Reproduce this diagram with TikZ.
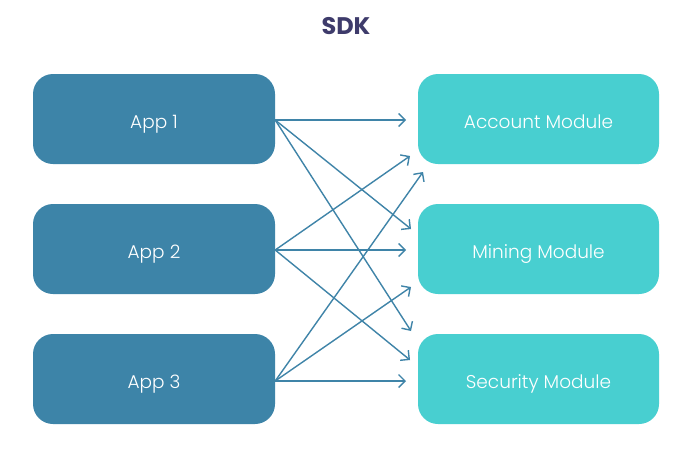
\documentclass[tikz,border=0pt]{standalone}
\usepackage{fontspec}
\setmainfont{Poppins}[UprightFont=* Light, BoldFont=* Bold]
\usetikzlibrary{arrows.meta}
\definecolor{appc}{HTML}{3D84A8}
\definecolor{modc}{HTML}{48CFD0}
\definecolor{linec}{HTML}{3F84A8}
\definecolor{titlec}{HTML}{3E3B6B}
\tikzset{
  boxtext/.style={text=white, font=\fontsize{18.5}{20}\selectfont, inner sep=0pt, text height=18pt, text depth=0pt, rounded corners=20pt, minimum height=90pt},
  appbox/.style={boxtext, fill=appc, minimum width=242pt},
  modbox/.style={boxtext, fill=modc, minimum width=241pt},
  link/.style={draw=linec, line width=1.4pt, -{Straight Barb[length=6.5pt,width=13pt,line width=1.4pt]}}
}
\begin{document}
\begin{tikzpicture}[x=1pt,y=-1pt]
\useasboundingbox[fill=white] (0,0) rectangle (699,474);
\node[font=\bfseries\fontsize{24}{26}\selectfont, text=titlec] (title) at (346,26) {SDK};
\node[appbox] (a1) at (154,119) {App 1};
\node[appbox] (a2) at (154,249) {App 2};
\node[appbox] (a3) at (154,379) {App 3};
\node[modbox] (m1) at (538.5,119) {Account Module};
\node[modbox] (m2) at (538.5,249) {Mining Module};
\node[modbox] (m3) at (538.5,379) {Security Module};
\coordinate (e11) at (406,120);
\coordinate (e12) at (411,229);
\coordinate (e13) at (411,331);
\coordinate (e21) at (410,156);
\coordinate (e22) at (406,250);
\coordinate (e23) at (410,360);
\coordinate (e31) at (423,172);
\coordinate (e32) at (411,287);
\coordinate (e33) at (406,381);
\draw[link] ([yshift=-1pt]a1.east) -- (e11);
\draw[link] ([yshift=-1pt]a1.east) -- (e12);
\draw[link] ([yshift=-1pt]a1.east) -- (e13);
\draw[link] ([yshift=-1pt]a2.east) -- (e21);
\draw[link] ([yshift=-1pt]a2.east) -- (e22);
\draw[link] ([yshift=-1pt]a2.east) -- (e23);
\draw[link] ([yshift=-2pt]a3.east) -- (e31);
\draw[link] ([yshift=-2pt]a3.east) -- (e32);
\draw[link] ([yshift=-2pt]a3.east) -- (e33);
\end{tikzpicture}
\end{document}
